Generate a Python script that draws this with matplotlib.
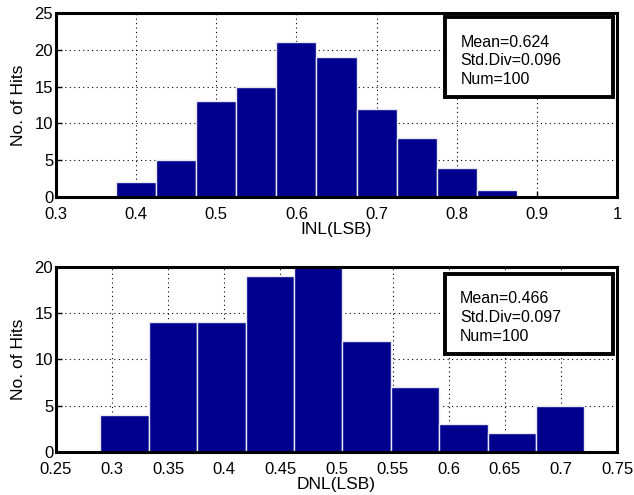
import matplotlib
matplotlib.use("Agg")
import matplotlib.pyplot as plt
from matplotlib.patches import Rectangle

plt.rcParams['font.family'] = ['Liberation Sans', 'DejaVu Sans']

# INL histogram
inl_centers = [0.40, 0.45, 0.50, 0.55, 0.60, 0.65, 0.70, 0.75, 0.80, 0.85]
inl_counts = [2, 5, 13, 15, 21, 19, 12, 8, 4, 1]
inl_width = 0.05
inl_xticks = [0.3, 0.4, 0.5, 0.6, 0.7, 0.8, 0.9, 1.0]
inl_xticklabels = ["0.3", "0.4", "0.5", "0.6", "0.7", "0.8", "0.9", "1"]
inl_yticks = [0, 5, 10, 15, 20, 25]
inl_stats = "Mean=0.624\nStd.Div=0.096\nNum=100"

# DNL histogram
dnl_centers = [0.3112, 0.3543, 0.3975, 0.4406, 0.4837, 0.5268, 0.5700, 0.6131, 0.6562, 0.6993]
dnl_counts = [4, 14, 14, 19, 20, 12, 7, 3, 2, 5]
dnl_width = 0.0431
dnl_xticks = [0.25, 0.3, 0.35, 0.4, 0.45, 0.5, 0.55, 0.6, 0.65, 0.7, 0.75]
dnl_xticklabels = ["0.25", "0.3", "0.35", "0.4", "0.45", "0.5", "0.55", "0.6", "0.65", "0.7", "0.75"]
dnl_yticks = [0, 5, 10, 15, 20]
dnl_stats = "Mean=0.466\nStd.Div=0.097\nNum=100"

bar_color = "#00008F"


def draw_hist(ax, centers, counts, width, xticks, xticklabels, yticks, xlabel, stats, box):
    ax.bar(centers, counts, width=width, color=bar_color, edgecolor="#e8e8f0", linewidth=1.0, zorder=2)
    ax.set_xlim(xticks[0], xticks[-1])
    ax.set_ylim(yticks[0], yticks[-1])
    ax.set_xticks(xticks)
    ax.set_xticklabels(xticklabels, fontsize=12)
    ax.set_yticks(yticks)
    ax.set_yticklabels([str(t) for t in yticks], fontsize=12)
    ax.grid(True, linestyle=(0, (1, 3)), color="black", linewidth=0.8, zorder=1)
    ax.set_axisbelow(True)
    ax.tick_params(axis="x", direction="in", length=4, width=1, pad=7)
    ax.tick_params(axis="y", direction="in", length=4, width=1, pad=2)
    for s in ax.spines.values():
        s.set_linewidth(2.2)
        s.set_zorder(5)
    ax.set_xlabel(xlabel, fontsize=12.5, labelpad=0)
    ax.set_ylabel("No. of Hits", fontsize=12.5, labelpad=6)
    x0, y0, x1, y1 = box
    ax.add_patch(Rectangle((x0, y0), x1 - x0, y1 - y0, transform=ax.transAxes,
                           facecolor="white", edgecolor="black", linewidth=2.8, zorder=6))
    ax.text(x0 + 0.028, (y0 + y1) / 2 - 0.02, stats, transform=ax.transAxes, fontsize=11.5,
            va="center", ha="left", linespacing=1.3, zorder=7)


fig = plt.figure(figsize=(6.34, 4.95), dpi=100)
ax1 = fig.add_axes([0.0883, 0.602, 0.885, 0.372])
ax2 = fig.add_axes([0.0883, 0.087, 0.885, 0.374])

draw_hist(ax1, inl_centers, inl_counts, inl_width, inl_xticks, inl_xticklabels,
          inl_yticks, "INL(LSB)", inl_stats, (0.693, 0.543, 0.993, 0.977))
draw_hist(ax2, dnl_centers, dnl_counts, dnl_width, dnl_xticks, dnl_xticklabels,
          dnl_yticks, "DNL(LSB)", dnl_stats, (0.6925, 0.53, 0.993, 0.962))

fig.savefig("out.png", dpi=100)
